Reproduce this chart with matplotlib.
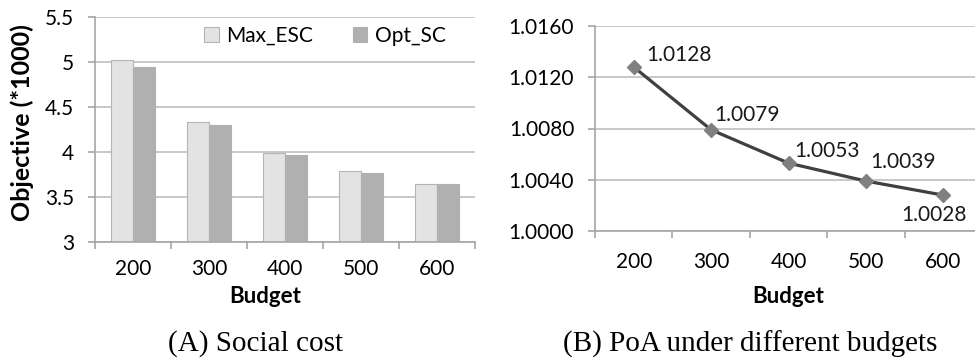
import numpy as np
import matplotlib.pyplot as plt
from matplotlib.ticker import FixedLocator, FormatStrFormatter

plt.rcParams['font.family'] = ['Lato', 'DejaVu Sans']

budgets = ['200', '300', '400', '500', '600']
max_esc = [5.02, 4.33, 3.99, 3.79, 3.65]
opt_sc = [4.95, 4.30, 3.97, 3.77, 3.64]
poa = [1.0128, 1.0079, 1.0053, 1.0039, 1.0028]
poa_labels = ['1.0128', '1.0079', '1.0053', '1.0039', '1.0028']

grid_c = '#bfbfbf'
axis_c = '#a6a6a6'
fs = 15

fig = plt.figure(figsize=(9.75, 3.61), dpi=100)


def style_axes(ax):
    ax.set_facecolor('white')
    for s in ['top', 'right']:
        ax.spines[s].set_visible(False)
    for s in ['left', 'bottom']:
        ax.spines[s].set_color(axis_c)
        ax.spines[s].set_linewidth(1.2)
    ax.yaxis.grid(True, color=grid_c, linewidth=1.2)
    ax.set_axisbelow(True)
    n = len(budgets)
    ax.set_xlim(-0.5, n - 0.5)
    ax.set_xticks(range(n))
    ax.set_xticklabels(budgets, fontsize=fs)
    ax.xaxis.set_minor_locator(FixedLocator(np.arange(-0.5, n, 1.0)))
    ax.tick_params(axis='x', which='major', length=0, pad=12)
    ax.tick_params(axis='x', which='minor', length=5, width=1.2, color=axis_c)
    ax.tick_params(axis='y', length=5, width=1.2, color=axis_c, pad=10, labelsize=fs)


# (A) bar chart
ax1 = fig.add_axes([95 / 975, 119 / 361, 380 / 975, 225 / 361])
style_axes(ax1)
x = np.arange(len(budgets))
w = 0.285
ax1.bar(x - w, max_esc, w, align='edge', color='#e3e3e3', edgecolor='#b5b5b5',
        linewidth=0.8, label='Max_ESC')
ax1.bar(x, opt_sc, w, align='edge', color='#b0b0b0', edgecolor='#b0b0b0',
        linewidth=0.8, label='Opt_SC')
ax1.set_ylim(3, 5.5)
ax1.set_yticks([3, 3.5, 4, 4.5, 5, 5.5])
ax1.set_yticklabels(['3', '3.5', '4', '4.5', '5', '5.5'])
ax1.set_ylabel('Objective (*1000)', fontsize=18, fontweight='bold')
ax1.yaxis.set_label_coords(-0.16, 0.53)
ax1.set_xlabel('Budget', fontsize=16, fontweight='bold')
ax1.xaxis.set_label_coords(0.447, -0.196)
ax1.legend(loc='center', bbox_to_anchor=(0.605, 0.916), ncol=2, frameon=False,
           fontsize=15, handlelength=0.7, handleheight=0.7, handletextpad=0.35,
           columnspacing=1.9)

# (B) line chart
ax2 = fig.add_axes([595 / 975, 130 / 361, 387 / 975, 205 / 361])
style_axes(ax2)
ax2.plot(x, poa, color='#404040', linewidth=2.3, marker='D', markersize=7,
         markerfacecolor='#808080', markeredgecolor='#808080', clip_on=False)
ax2.set_ylim(1.0, 1.016)
ax2.set_yticks([1.0, 1.004, 1.008, 1.012, 1.016])
ax2.yaxis.set_major_formatter(FormatStrFormatter('%.4f'))
ax2.tick_params(axis='x', which='major', pad=15)
ax2.set_xlabel('Budget', fontsize=16, fontweight='bold')
ax2.xaxis.set_label_coords(0.5, -0.268)

offsets = [(9, 9), (2, 11), (4, 9), (3, 14), (-30, -14)]
for xi, yi, lab, off in zip(x, poa, poa_labels, offsets):
    ax2.annotate(lab, (xi, yi), xytext=off, textcoords='offset points',
                 ha='left', va='center', fontsize=fs, color='#1a1a1a')

# captions
fig.text(256 / 975, 1 - 344 / 361, '(A) Social cost', family='Liberation Serif',
         fontsize=21, ha='center', va='center')
fig.text(750 / 975, 1 - 344 / 361, '(B) PoA under different budgets',
         family='Liberation Serif', fontsize=21, ha='center', va='center')

fig.savefig('out.png', dpi=100)
